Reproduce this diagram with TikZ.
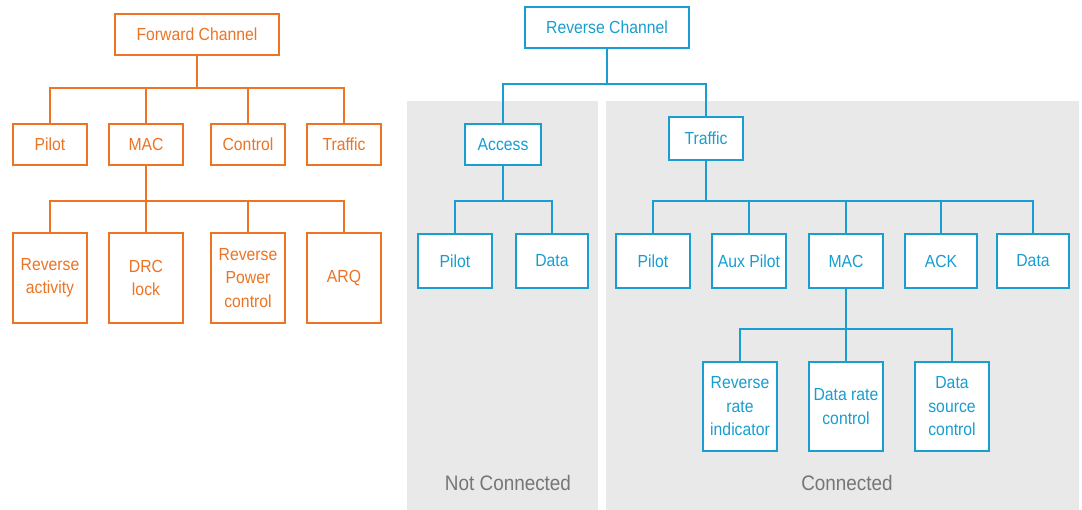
\documentclass[tikz,border=0pt]{standalone}
\usepackage{fontspec}
\setmainfont[FakeStretch=0.9]{Liberation Sans}
\definecolor{fwdorange}{RGB}{236,116,36}
\definecolor{revblue}{RGB}{24,158,208}
\definecolor{panelgray}{RGB}{233,233,233}
\definecolor{labelgray}{RGB}{118,118,118}
\tikzset{
  fwdbox/.style={draw=fwdorange, text=fwdorange, line width=2pt, fill=white,
    align=center, inner sep=0pt, font=\fontsize{17.5}{23.5}\selectfont},
  revbox/.style={draw=revblue, text=revblue, line width=2pt, fill=white,
    align=center, inner sep=0pt, font=\fontsize{17.5}{23.5}\selectfont},
  fwdline/.style={draw=fwdorange, line width=2pt},
  revline/.style={draw=revblue, line width=2pt},
  panel/.style={fill=panelgray, draw=none},
  paneltitle/.style={text=labelgray, font=\fontsize{21}{24}\selectfont, inner sep=0pt}
}
% box from its corners: name, x1, y1, x2, y2, style, text
\newcommand{\cbox}[7]{%
  \node[#6, minimum width={(#4-#2)*1pt}, minimum height={(#5-#3)*1pt}]
    (#1) at ({(#2+#4)/2},{(#3+#5)/2}) {#7};}
% tree connector: style, parent, bus coordinate, first child, last child, other children
\newcommand{\treelink}[6]{%
  \draw[#1] (#2.south) -- (#2.south |- #3);
  \draw[#1] (#4.north) -- (#4.north |- #3) -- (#5.north |- #3) -- (#5.north);
  \foreach \c in {#6} {\draw[#1] (\c.north |- #3) -- (\c.north);}}
\begin{document}
\begin{tikzpicture}[x=1pt,y=-1pt]
\useasboundingbox (0,0) rectangle (1082,510);

% shaded panels of the reverse channel
\fill[panel] (407,101) rectangle (598,510);
\fill[panel] (606,101) rectangle (1079,510);
\node[paneltitle] (notconn) at (508,483) {Not Connected};
\node[paneltitle] (conn) at (847,483) {Connected};

% bus heights
\coordinate (fbusA) at (0,88);
\coordinate (fbusB) at (0,201);
\coordinate (rbusA) at (0,84);
\coordinate (rbusB) at (0,201);
\coordinate (rbusC) at (0,201);
\coordinate (rbusD) at (0,329);

% ---- forward channel ----
\cbox{fc}{115}{14}{279}{55}{fwdbox}{Forward Channel}
\cbox{fpilot}{13}{124}{87}{165}{fwdbox}{Pilot}
\cbox{fmac}{109}{124}{183}{165}{fwdbox}{MAC}
\cbox{fctrl}{211}{124}{285}{165}{fwdbox}{Control}
\cbox{ftraf}{307}{124}{381}{165}{fwdbox}{Traffic}
\cbox{fra}{13}{233}{87}{323}{fwdbox}{Reverse\\activity}
\cbox{fdrc}{109}{233}{183}{323}{fwdbox}{DRC\\lock}
\cbox{frpc}{211}{233}{285}{323}{fwdbox}{Reverse\\Power\\control}
\cbox{farq}{307}{233}{381}{323}{fwdbox}{ARQ}

\treelink{fwdline}{fc}{fbusA}{fpilot}{ftraf}{fmac,fctrl}
\treelink{fwdline}{fmac}{fbusB}{fra}{farq}{fdrc,frpc}

% ---- reverse channel ----
\cbox{rc}{525}{7}{689}{48}{revbox}{Reverse Channel}
\cbox{racc}{465}{124}{541}{165}{revbox}{Access}
\cbox{rtraf}{669}{117}{743}{160}{revbox}{Traffic}
\cbox{rapilot}{418}{234}{492}{288}{revbox}{Pilot}
\cbox{radata}{516}{234}{588}{288}{revbox}{Data}
\cbox{rtpilot}{616}{234}{690}{288}{revbox}{Pilot}
\cbox{raux}{712}{234}{786}{288}{revbox}{Aux Pilot}
\cbox{rmac}{809}{234}{883}{288}{revbox}{MAC}
\cbox{rack}{905}{234}{977}{288}{revbox}{ACK}
\cbox{rtdata}{997}{234}{1069}{288}{revbox}{Data}
\cbox{rrri}{703}{362}{777}{451}{revbox}{Reverse\\rate\\indicator}
\cbox{rdrc}{809}{362}{883}{451}{revbox}{Data rate\\control}
\cbox{rdsc}{915}{362}{989}{451}{revbox}{Data\\source\\control}

\treelink{revline}{rc}{rbusA}{racc}{rtraf}{}
\treelink{revline}{racc}{rbusB}{rapilot}{radata}{}
\treelink{revline}{rtraf}{rbusC}{rtpilot}{rtdata}{raux,rmac,rack}
\treelink{revline}{rmac}{rbusD}{rrri}{rdsc}{rdrc}
\end{tikzpicture}
\end{document}
